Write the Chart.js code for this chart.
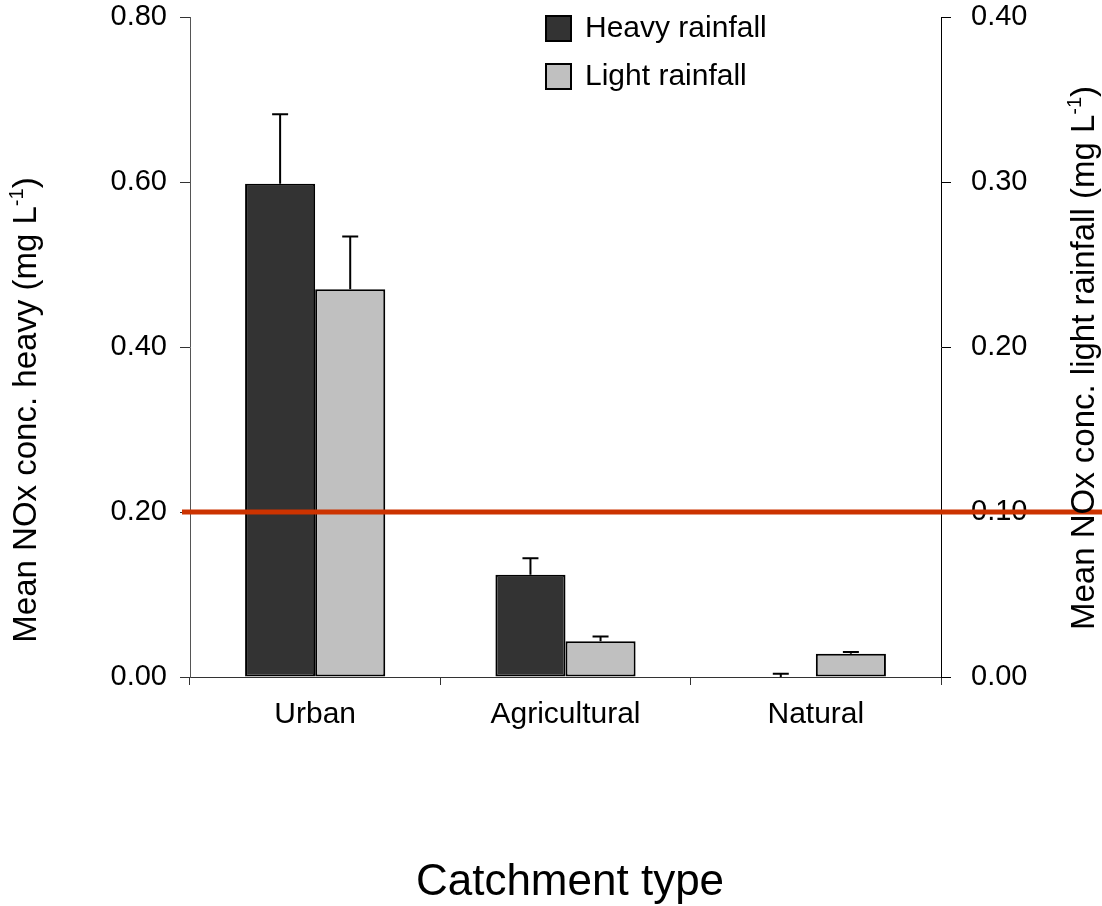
<!DOCTYPE html>
<html>
<head>
<meta charset="utf-8">
<title>Mean NOx concentration by catchment type</title>
<script src="https://cdn.jsdelivr.net/npm/chart.js@4.4.1/dist/chart.umd.min.js"></script>
<style>
  body { margin: 0; background: #fff; }
  #wrap { width: 1102px; height: 906px; }
</style>
</head>
<body>
<div id="wrap"><canvas id="noxChart" width="1102" height="906"></canvas></div>
<script>
// Datos
const categories = ['Urban', 'Agricultural', 'Natural'];
const heavyMeans = [0.598, 0.124, 0.0];
const heavyErrors = [0.084, 0.020, 0.004];
const lightMeans = [0.235, 0.0217, 0.0141];
const lightErrors = [0.032, 0.0028, 0.001];
const heavyTicks = [0, 0.2, 0.4, 0.6, 0.8];
const lightTicks = [0, 0.1, 0.2, 0.3, 0.4];
const guideline = 0.2; // on the heavy (left) axis

const FONT = '"Liberation Sans", Arial, sans-serif';

// Error bars, red guideline, legend and axis titles
const extrasPlugin = {
    id: 'extras',
    afterDatasetsDraw(chart) {
        const ctx = chart.ctx;
        const errs = [heavyErrors, lightErrors];
        ctx.save();
        ctx.strokeStyle = '#000';
        ctx.lineWidth = 2;
        chart.data.datasets.forEach((ds, di) => {
            const meta = chart.getDatasetMeta(di);
            const scale = chart.scales[ds.yAxisID];
            meta.data.forEach((bar, i) => {
                const top = scale.getPixelForValue(ds.data[i] + errs[di][i]);
                const base = scale.getPixelForValue(ds.data[i]);
                ctx.beginPath();
                ctx.moveTo(bar.x, base);
                ctx.lineTo(bar.x, top);
                ctx.moveTo(bar.x - 8, top);
                ctx.lineTo(bar.x + 8, top);
                ctx.stroke();
            });
        });
        // guideline
        const gy = chart.scales.y.getPixelForValue(guideline);
        ctx.strokeStyle = '#cc3300';
        ctx.lineWidth = 5;
        ctx.beginPath();
        ctx.moveTo(chart.chartArea.left - 8, gy);
        ctx.lineTo(chart.width, gy);
        ctx.stroke();
        ctx.restore();
    },
    afterDraw(chart) {
        const ctx = chart.ctx;
        ctx.save();
        // legend
        ctx.font = '30px ' + FONT;
        ctx.textBaseline = 'middle';
        ctx.fillStyle = '#000';
        chart.data.datasets.forEach((ds, i) => {
            const by = 16 + i * 48;
            ctx.fillStyle = ds.backgroundColor;
            ctx.fillRect(546, by, 25, 25);
            ctx.strokeStyle = '#000';
            ctx.lineWidth = 2;
            ctx.strokeRect(546, by, 25, 25);
            ctx.fillStyle = '#000';
            ctx.fillText(ds.label, 585, by + 13);
        });

        // rotated titles with superscript
        function vTitle(x, y, main) {
            ctx.save();
            ctx.translate(x, y);
            ctx.rotate(-Math.PI / 2);
            ctx.textBaseline = 'alphabetic';
            ctx.textAlign = 'left';
            ctx.font = '33px ' + FONT;
            const w1 = ctx.measureText(main).width;
            const w3 = ctx.measureText(')').width;
            ctx.font = '20px ' + FONT;
            const w2 = ctx.measureText('-1').width;
            let sx = -(w1 + w2 + w3) / 2;
            ctx.font = '33px ' + FONT;
            ctx.fillText(main, sx, 0);
            ctx.font = '20px ' + FONT;
            ctx.fillText('-1', sx + w1, -13);
            ctx.font = '33px ' + FONT;
            ctx.fillText(')', sx + w1 + w2, 0);
            ctx.restore();
        }
        ctx.fillStyle = '#000';
        vTitle(36, 410, 'Mean NOx conc. heavy (mg L');
        vTitle(1094, 358, 'Mean NOx conc. light rainfall (mg L');

        ctx.font = '44px ' + FONT;
        ctx.textAlign = 'center';
        ctx.textBaseline = 'alphabetic';
        ctx.fillText('Catchment type', 570, 895);
        ctx.restore();
    }
};

// fixed axis sizes so the plot area lands where the reference has it
function fixVertical(width) {
    return s => {
        s.width = width;
        s.paddingTop = 17;
        s.paddingBottom = 0;
    };
}

new Chart(document.getElementById('noxChart'), {
    type: 'bar',
    data: {
        labels: categories,
        datasets: [{
            label: 'Heavy rainfall',
            data: heavyMeans,
            yAxisID: 'y',
            backgroundColor: '#333333',
            borderColor: '#000',
            borderWidth: 2,
            borderSkipped: false,
            categoryPercentage: 0.56,
            barPercentage: 1.0
        }, {
            label: 'Light rainfall',
            data: lightMeans,
            yAxisID: 'y1',
            backgroundColor: '#c0c0c0',
            borderColor: '#000',
            borderWidth: 2,
            borderSkipped: false,
            categoryPercentage: 0.56,
            barPercentage: 1.0
        }]
    },
    options: {
        responsive: false,
        animation: false,
        layout: { padding: 0 },
        plugins: {
            legend: { display: false },
            tooltip: { enabled: false }
        },
        scales: {
            x: {
                grid: { offset: true, drawOnChartArea: false, drawTicks: true, tickLength: 8, color: '#333' },
                border: { color: '#333', width: 1 },
                ticks: { font: { family: FONT, size: 30 }, color: '#000', padding: 12 },
                afterFit: s => { s.height = 229; s.paddingLeft = 0; s.paddingRight = 0; }
            },
            y: {
                position: 'left',
                min: 0, max: 0.8,
                afterBuildTicks: s => { s.ticks = heavyTicks.map(v => ({ value: v })); },
                grid: { drawOnChartArea: false, drawTicks: true, tickLength: 10, color: '#333' },
                border: { color: '#555', width: 1 },
                ticks: { font: { family: FONT, size: 29 }, color: '#000', padding: 13,
                         callback: v => v.toFixed(2) },
                afterFit: fixVertical(190)
            },
            y1: {
                position: 'right',
                min: 0, max: 0.4,
                afterBuildTicks: s => { s.ticks = lightTicks.map(v => ({ value: v })); },
                grid: { drawOnChartArea: false, drawTicks: true, tickLength: 10, color: '#000' },
                border: { color: '#000', width: 1 },
                ticks: { font: { family: FONT, size: 29 }, color: '#000', padding: 20,
                         callback: v => v.toFixed(2) },
                afterFit: fixVertical(161)
            }
        }
    },
    plugins: [extrasPlugin]
});
</script>
</body>
</html>
